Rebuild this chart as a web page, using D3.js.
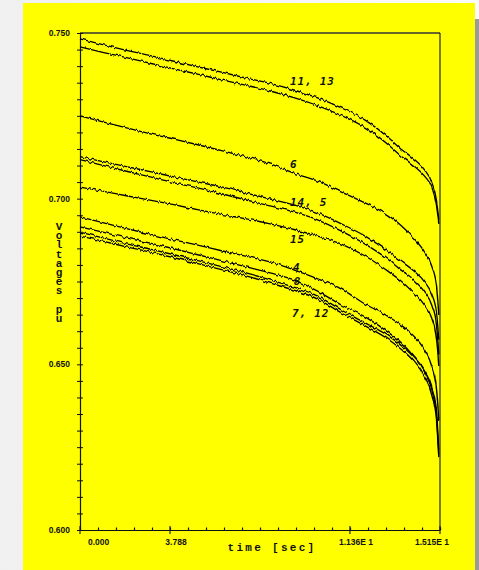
<!DOCTYPE html>
<html><head><meta charset="utf-8">
<script src="https://cdn.jsdelivr.net/npm/d3@7"></script>
<style>html,body{margin:0;padding:0;background:#f6f6f6;}svg{display:block;}</style>
</head><body>
<svg id="c" width="479" height="570"></svg>
<script>
// ---- data ----
const times = [0,1,2,3,4,5,6,7,8,9,10,11,12,13,13.5,14,14.5,14.8,15.0,15.1];
const bus11 = [0.7482,0.7464,0.7447,0.7431,0.7414,0.7397,0.7381,0.7364,0.7348,0.7328,0.7304,0.7274,0.7237,0.7183,0.7150,0.7123,0.7087,0.7050,0.6996,0.6936];
const bus13 = [0.7458,0.7441,0.7425,0.7408,0.7391,0.7375,0.7358,0.7342,0.7325,0.7305,0.7281,0.7251,0.7215,0.7161,0.7129,0.7102,0.7068,0.7035,0.6981,0.6924];
const bus6  = [0.7250,0.7231,0.7213,0.7195,0.7179,0.7162,0.7144,0.7126,0.7105,0.7077,0.7053,0.7020,0.6987,0.6948,0.6920,0.6884,0.6839,0.6797,0.6740,0.6649];
const bus14 = [0.7127,0.7111,0.7096,0.7081,0.7065,0.7050,0.7035,0.7017,0.6999,0.6981,0.6957,0.6924,0.6887,0.6839,0.6812,0.6785,0.6749,0.6712,0.6658,0.6574];
const bus5  = [0.7118,0.7100,0.7082,0.7065,0.7047,0.7032,0.7014,0.6996,0.6978,0.6960,0.6936,0.6902,0.6863,0.6815,0.6785,0.6758,0.6718,0.6679,0.6619,0.6528];
const bus15 = [0.7035,0.7022,0.7008,0.6995,0.6981,0.6966,0.6952,0.6939,0.6924,0.6907,0.6887,0.6863,0.6827,0.6779,0.6752,0.6718,0.6679,0.6640,0.6580,0.6498];
const bus4  = [0.6945,0.6927,0.6909,0.6892,0.6875,0.6859,0.6842,0.6826,0.6809,0.6785,0.6758,0.6727,0.6682,0.6643,0.6619,0.6589,0.6543,0.6495,0.6429,0.6332];
const bus8  = [0.6915,0.6898,0.6881,0.6865,0.6848,0.6830,0.6812,0.6794,0.6776,0.6755,0.6721,0.6679,0.6643,0.6595,0.6567,0.6528,0.6480,0.6432,0.6362,0.6242];
const bus7  = [0.6899,0.6881,0.6863,0.6847,0.6830,0.6812,0.6794,0.6776,0.6755,0.6733,0.6706,0.6664,0.6625,0.6585,0.6558,0.6525,0.6477,0.6423,0.6347,0.6226];
const bus12 = [0.6887,0.6871,0.6854,0.6838,0.6821,0.6803,0.6785,0.6767,0.6745,0.6724,0.6697,0.6655,0.6616,0.6574,0.6546,0.6513,0.6462,0.6408,0.6332,0.6217];
const seriesList = [bus11,bus13,bus6,bus14,bus5,bus15,bus4,bus8,bus7,bus12];

const curveLabels = ["11, 13","6","14, 5","15","4","8","7, 12"];
const labelTimes  = [8.84, 8.84, 8.84, 8.84, 8.96, 9.0, 8.92];
const labelValues = [0.7343, 0.7093, 0.6978, 0.6866, 0.6782, 0.6739, 0.6643];

const yTickLabels = ["0.750","0.700","0.650","0.600"];
const yTickValues = [0.75,0.70,0.65,0.60];
const xTickLabels = ["0.000","3.788","1.136E 1","1.515E 1"];
const xTickValues = [0, 3.788, 11.36, 15.15];
const xTitle = "time [sec]";
const yTitle = "Voltages pu";

// ---- layout ----
const svg = d3.select("#c");
const L = 80, R = 440, T = 33, B = 530;
const x = d3.scaleLinear().domain([0, 15.15]).range([L, R]);
const y = d3.scaleLinear().domain([0.60, 0.75]).range([B, T]);

// backgrounds
const defs = svg.append("defs");
const grad = defs.append("linearGradient").attr("id","lg").attr("x1","0").attr("x2","1").attr("y1","0").attr("y2","0");
grad.append("stop").attr("offset","0").attr("stop-color","#f0f0f0");
grad.append("stop").attr("offset","1").attr("stop-color","#fafafa");
svg.append("rect").attr("x",0).attr("y",0).attr("width",479).attr("height",570).attr("fill","url(#lg)");
svg.append("rect").attr("x",475).attr("y",19).attr("width",4).attr("height",551).attr("fill","#9a9a9a");
svg.append("rect").attr("x",23).attr("y",3).attr("width",452).attr("height",567).attr("fill","#ffff00");

// jitter filter (visual style only: plotter noise look)
const f = defs.append("filter").attr("id","jit").attr("filterUnits","userSpaceOnUse")
  .attr("x",0).attr("y",0).attr("width",479).attr("height",570)
  .attr("color-interpolation-filters","sRGB");
f.append("feTurbulence").attr("type","fractalNoise").attr("baseFrequency","0.42 0.04").attr("numOctaves",2).attr("seed",4).attr("result","n");
f.append("feColorMatrix").attr("in","n").attr("type","matrix")
  .attr("values","0 0 0 0 0.5  0 1 0 0 0  0 0 0 0 0  0 0 0 0 1").attr("result","m");
f.append("feDisplacementMap").attr("in","SourceGraphic").attr("in2","m").attr("scale",4.5)
  .attr("xChannelSelector","R").attr("yChannelSelector","G");

// frame
const ink = "#111";
svg.append("line").attr("x1",L).attr("x2",R).attr("y1",T).attr("y2",T).attr("stroke","#333").attr("stroke-width",1.3);
svg.append("line").attr("x1",R).attr("x2",R).attr("y1",T).attr("y2",B).attr("stroke",ink).attr("stroke-width",1.1);

// y axis
const yAxis = d3.axisLeft(y).tickValues(d3.range(0.600, 0.7501, 0.005)).tickSize(0).tickFormat("");
const gy = svg.append("g").attr("transform",`translate(${L},0)`).call(yAxis);
gy.select(".domain").attr("stroke",ink).attr("stroke-width",1.2);
gy.selectAll(".tick").append("line").attr("x1",-3).attr("x2",3).attr("stroke",ink).attr("stroke-width",1);
svg.append("g").selectAll("text").data(yTickValues).join("text")
  .attr("x", L-10).attr("y", d => y(d)).attr("dy","0.35em")
  .attr("text-anchor","end").attr("font-family","Liberation Sans, Arial, sans-serif")
  .attr("font-weight","bold").attr("font-size",8.5).attr("fill","#111")
  .text((d,i) => yTickLabels[i]);

// x axis
const xAxis = d3.axisBottom(x).tickValues(d3.range(0, 15.16, 3.788/5)).tickSize(0).tickFormat("");
const gx = svg.append("g").attr("transform",`translate(0,${B})`).call(xAxis);
gx.select(".domain").attr("stroke",ink).attr("stroke-width",1.2);
gx.selectAll(".tick").append("line").attr("y1",-2.5).attr("y2",0).attr("stroke",ink).attr("stroke-width",1.2);
svg.append("g").selectAll("line").data(xTickValues).join("line")
  .attr("x1",d=>x(d)).attr("x2",d=>x(d)).attr("y1",B-4).attr("y2",B+4).attr("stroke",ink).attr("stroke-width",1.1);
svg.append("g").selectAll("text").data(xTickValues).join("text")
  .attr("x",(d,i)=> i===0 ? x(d)+8 : (i===xTickValues.length-1 ? x(d)+9 : x(d)+6))
  .attr("y", B+15)
  .attr("text-anchor",(d,i)=> i===0 ? "start" : (i===xTickValues.length-1 ? "end" : "middle"))
  .attr("font-family","Liberation Sans, Arial, sans-serif").attr("font-weight","bold")
  .attr("font-size",8.5).attr("fill","#111")
  .text((d,i)=>xTickLabels[i]);

// titles
svg.append("text").attr("x",272).attr("y",551).attr("text-anchor","middle")
  .attr("font-family","Liberation Mono, DejaVu Sans Mono, monospace").attr("font-weight","bold")
  .attr("font-size",11).attr("letter-spacing",2.3).attr("fill","#111").text(xTitle);
svg.append("text").attr("x",59).attr("y",221)
  .style("writing-mode","vertical-rl").style("text-orientation","upright")
  .attr("font-family","Liberation Mono, DejaVu Sans Mono, monospace").attr("font-weight","bold")
  .attr("font-size",11).attr("letter-spacing",-2.8).attr("fill","#111").text(yTitle);

// curves
const line = d3.line().x((d,i)=>x(times[i])).y(d=>y(d)).curve(d3.curveMonotoneX);
svg.append("g").attr("filter","url(#jit)").selectAll("path").data(seriesList).join("path")
  .attr("d", d=>line(d)).attr("fill","none").attr("stroke","#000").attr("stroke-width",1.35);

// curve labels
svg.append("g").selectAll("text").data(curveLabels).join("text")
  .attr("x",(d,i)=>x(labelTimes[i])).attr("y",(d,i)=>y(labelValues[i]))
  .attr("font-family","DejaVu Sans Mono, monospace").attr("font-weight","bold").attr("font-style","italic")
  .attr("font-size",11).attr("letter-spacing",0.8).attr("fill","#111")
  .text(d=>d);
</script>
</body></html>
